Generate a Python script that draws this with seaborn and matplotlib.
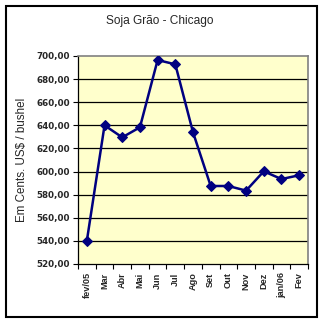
import matplotlib
matplotlib.use("Agg")
import matplotlib.pyplot as plt
from matplotlib.patches import Rectangle
import seaborn as sns
import pandas as pd

# Monthly soybean price, Chicago (US cents per bushel)
months = ["fev/05", "Mar", "Abr", "Mai", "Jun", "Jul", "Ago",
          "Set", "Out", "Nov", "Dez", "jan/06", "Fev"]
prices = [540.0, 640.0, 629.6, 638.3, 696.5, 692.8, 634.0,
          587.5, 587.5, 583.5, 600.2, 593.5, 596.8]
y_ticks = [520, 540, 560, 580, 600, 620, 640, 660, 680, 700]
y_tick_labels = ["520,00", "540,00", "560,00", "580,00", "600,00",
                 "620,00", "640,00", "660,00", "680,00", "700,00"]

df = pd.DataFrame({"pos": range(len(months)), "price": prices})

sns.set_style("white")
plt.rcParams["font.family"] = ["Liberation Sans", "DejaVu Sans"]

W, H = 324, 322
fig = plt.figure(figsize=(W / 100, H / 100), dpi=100)
fig.patch.set_facecolor("white")
ax = fig.add_axes([78 / W, (H - 264) / H, 230 / W, 208 / H])
ax.set_facecolor("#FFFFCC")

navy = "#000080"
sns.lineplot(data=df, x="pos", y="price", ax=ax, color=navy, linewidth=1.8,
             marker="D", markersize=5.4, markerfacecolor=navy,
             markeredgecolor=navy, zorder=5)

ax.set_ylim(520, 700)
ax.set_xlim(-0.5, len(months) - 0.5)

# horizontal gridlines
for v in y_ticks[1:-1]:
    ax.axhline(v, color="black", linewidth=0.9, zorder=1)

ax.set_yticks(y_ticks)
ax.set_yticklabels(y_tick_labels, fontsize=6.3, fontweight="bold",
                   family="DejaVu Sans")
ax.tick_params(axis="y", direction="out", length=3.5, width=0.8,
               color="black", pad=2.5, left=True)

# category ticks between months, labels at centres
ax.set_xticks([i - 0.5 for i in range(len(months) + 1)])
ax.set_xticklabels([])
ax.set_xticks(range(len(months)), minor=True)
ax.set_xticklabels(months, minor=True, rotation=90, fontsize=6.6,
                   fontweight="bold")
ax.tick_params(axis="x", which="major", direction="out", length=3.5,
               width=0.8, color="black", bottom=True)
ax.tick_params(axis="x", which="minor", length=0, pad=6)

ax.set_xlabel("")
ax.set_ylabel("Em Cents. US$ / bushel", fontsize=8.4, labelpad=6)
ax.yaxis.set_label_coords(-(78 - 28) / 230, 0.5)

for side in ["left", "bottom"]:
    ax.spines[side].set_color("black")
    ax.spines[side].set_linewidth(0.9)
for side in ["top", "right"]:
    ax.spines[side].set_color("#808080")
    ax.spines[side].set_linewidth(1.2)
    ax.spines[side].set_visible(True)

fig.text(160 / W, 1 - 21 / H, "Soja Grão - Chicago", ha="center",
         va="center", fontsize=8.6)

# outer chart border
fig.patches.append(Rectangle((5.5 / W, 1 - 316.5 / H), 311.5 / W, 311 / H,
                             transform=fig.transFigure, fill=False,
                             edgecolor="black", linewidth=1.5))

fig.savefig("out.png", dpi=100)
